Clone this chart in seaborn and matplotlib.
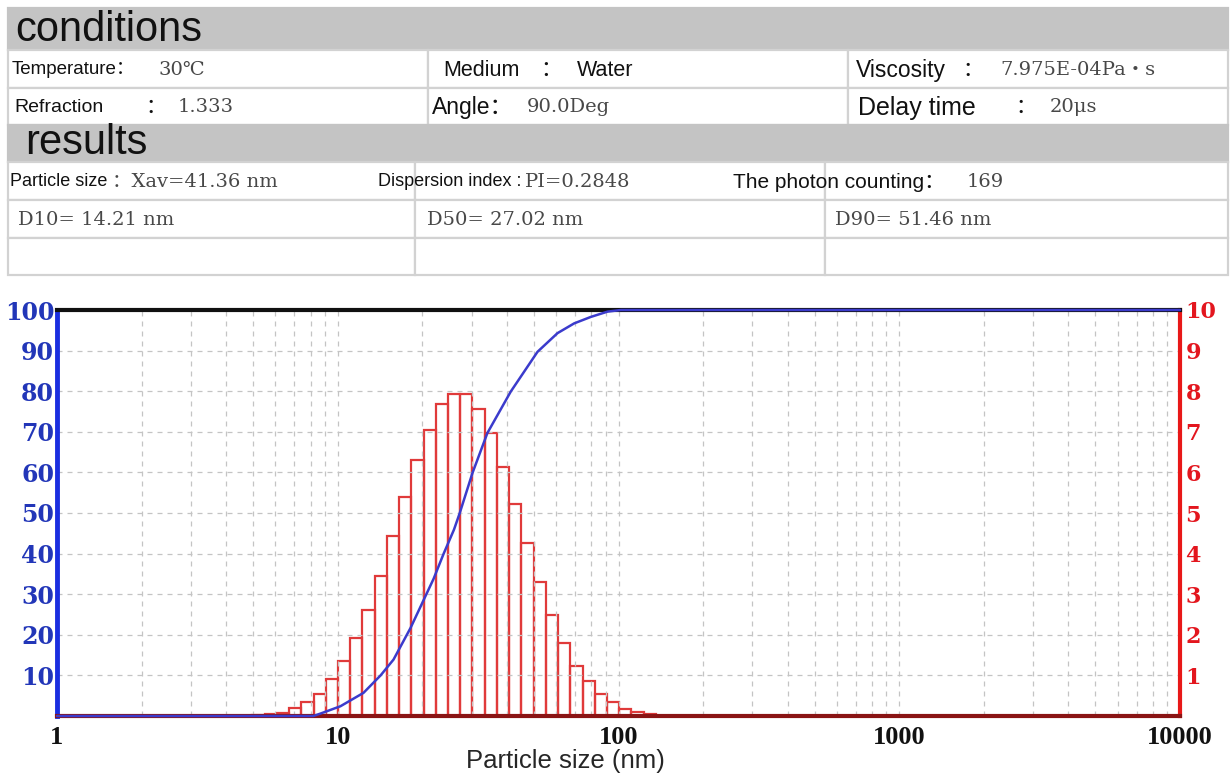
import matplotlib
matplotlib.use('Agg')
import matplotlib.pyplot as plt
import matplotlib.ticker as ticker
from matplotlib.patches import Rectangle
import seaborn as sns
import numpy as np

W, H = 1230, 776

# size distribution
bin_edges = [4.96, 5.49, 6.06, 6.70, 7.41, 8.20, 9.06, 10.02, 11.07, 12.24, 13.53,
             14.96, 16.54, 18.28, 20.22, 22.35, 24.71, 27.31, 30.19, 33.38, 36.90,
             40.78, 45.09, 49.84, 55.08, 60.94, 67.36, 74.46, 82.31, 91.00, 100.6,
             111.2, 122.9, 135.9]
freq_pct = [0.02, 0.04, 0.08, 0.19, 0.35, 0.55, 0.90, 1.35, 1.91, 2.60, 3.46,
            4.44, 5.40, 6.31, 7.05, 7.68, 7.94, 7.94, 7.55, 6.96, 6.14,
            5.22, 4.27, 3.30, 2.49, 1.80, 1.24, 0.85, 0.53, 0.34, 0.18,
            0.09, 0.04]

# cumulative curve (blue)
cum_size = [1, 8.19, 8.68, 10.22, 12.35, 14.21, 15.80, 18.17, 21.95, 23.84, 25.94,
            27.2, 30.17, 34.12, 41.32, 51.46, 60.64, 69.5, 79.72, 91.43, 102.0, 10000]
cum_pct = [0, 0, 0.6, 2.4, 5.7, 10, 13.9, 21.7, 33.8, 40.0, 45.9,
           50, 59.8, 69.7, 79.9, 89.7, 94.3, 96.7, 98.3, 99.6, 100, 100]

x_ticks = [1, 10, 100, 1000, 10000]
left_ticks = list(range(10, 101, 10))
right_ticks = list(range(1, 11))

# header table: (text, x in px, size, font kind)
cond_rows = [
    [[("Temperature：", 12, 13.5, 'lab'), ("30℃", 158, 14, 'val')],
     [("Medium", 443, 15.5, 'lab'), ("：", 540, 15.5, 'lab'), ("Water", 577, 15.5, 'lab')],
     [("Viscosity", 856, 16.5, 'lab'), ("：", 962, 15, 'lab'), ("7.975E-04Pa・s", 1000, 14, 'val')]],
    [[("Refraction", 14, 14, 'lab'), ("：", 145, 15, 'lab'), ("1.333", 178, 14, 'val')],
     [("Angle：", 432, 16.5, 'lab'), ("90.0Deg", 527, 14, 'val')],
     [("Delay time", 858, 18, 'lab'), ("：", 1015, 15, 'lab'), ("20μs", 1050, 14, 'val')]],
]
res_rows = [
    [[("Particle size", 10, 13, 'lab'), ("：Xav=41.36 nm", 112, 14, 'val')],
     [("Dispersion index :", 378, 13, 'lab'), ("PI=0.2848", 525, 14, 'val')],
     [("The photon counting：", 733, 15, 'lab'), ("169", 967, 14, 'val')]],
    [[("D10= 14.21 nm", 18, 14, 'val')],
     [("D50= 27.02 nm", 427, 14, 'val')],
     [("D90= 51.46 nm", 835, 14, 'val')]],
]

sns.set_style('white')
plt.rcParams['font.family'] = ['Liberation Sans', 'DejaVu Sans', 'Noto Sans CJK SC']

fig = plt.figure(figsize=(W / 100, H / 100), dpi=100)


def fx(px):
    return px / W


def fy(py):
    return 1 - py / H


def box(x0, y0, x1, y1, face, edge='#d2d2d2'):
    fig.add_artist(Rectangle((fx(x0), fy(y1)), fx(x1) - fx(x0), fy(y0) - fy(y1),
                             transform=fig.transFigure, facecolor=face,
                             edgecolor=edge, linewidth=1.6))


GRAY = '#c4c4c4'
FONTS = {
    'val': (['DejaVu Serif', 'Noto Sans CJK SC'], '#484848'),
    'lab': (['Liberation Sans', 'Noto Sans CJK SC', 'DejaVu Sans'], '#111111'),
}


def fill_rows(rows, row_y, cols):
    for (y0, y1), row in zip(row_y, rows):
        for (c0, c1), cell in zip(cols, row):
            box(c0, y0, c1, y1, 'white')
            yc = (y0 + y1) / 2 + 1
            for txt, x, size, kind in cell:
                fam, col = FONTS[kind]
                fig.text(fx(x), fy(yc), txt, fontsize=size, va='center',
                         color=col, family=fam)


box(8, 8, 1228, 50, GRAY, GRAY)
fig.text(fx(15), fy(30), 'conditions', fontsize=30, va='center', color='#111')
fill_rows(cond_rows, [(50, 88), (88, 125)], [(8, 428), (428, 848), (848, 1228)])

box(8, 125, 1228, 162, GRAY, GRAY)
fig.text(fx(25), fy(143), 'results', fontsize=30, va='center', color='#111')
res_cols = [(8, 415), (415, 825), (825, 1228)]
fill_rows(res_rows, [(162, 200), (200, 238)], res_cols)
for c0, c1 in res_cols:
    box(c0, 238, c1, 275, 'white')

# chart
ax = fig.add_axes([fx(57), fy(716), fx(1180) - fx(57), fy(310) - fy(716)])
ax.set_xscale('log')
ax2 = ax.twinx()
ax.set_zorder(2)
ax.patch.set_visible(False)

sns.lineplot(x=cum_size, y=cum_pct, ax=ax, color='#3b3bcc', linewidth=1.8,
             zorder=6, clip_on=False)

centers = list(np.sqrt(np.array(bin_edges[:-1]) * np.array(bin_edges[1:])))
sns.histplot(x=centers, weights=freq_pct, bins=list(np.log10(bin_edges)), log_scale=True,
             element='bars', fill=False, color='#e03a3a', linewidth=1.6, ax=ax2)

ax.set_xlim(1, 10000)
ax.set_ylim(0, 100)
ax2.set_ylim(0, 10)

ax.set_yticks(left_ticks)
ax2.set_yticks(right_ticks)
ax.set_xticks(x_ticks)
ax.xaxis.set_major_formatter(ticker.FixedFormatter([str(v) for v in x_ticks]))
ax.xaxis.set_minor_locator(ticker.LogLocator(base=10, subs=range(2, 10)))
ax.xaxis.set_minor_formatter(ticker.NullFormatter())

ax2.grid(False)
for axis_name, which in [('x', 'both'), ('y', 'major')]:
    ax.grid(True, which=which, axis=axis_name, color='#c4c4c4',
            linestyle=(0, (4, 4)), linewidth=0.9, zorder=0)

ax.tick_params(axis='both', which='both', length=0)
ax2.tick_params(axis='both', which='both', length=0)
for lbl in ax.get_yticklabels():
    lbl.set_fontfamily('DejaVu Serif')
    lbl.set_fontweight('bold')
    lbl.set_fontsize(17)
    lbl.set_color('#2236b8')
for lbl in ax2.get_yticklabels():
    lbl.set_fontfamily('DejaVu Serif')
    lbl.set_fontweight('bold')
    lbl.set_fontsize(16)
    lbl.set_color('#e3161e')
for lbl in ax.get_xticklabels():
    lbl.set_fontfamily('Liberation Serif')
    lbl.set_fontweight('bold')
    lbl.set_fontsize(19)
    lbl.set_color('#111')
ax.tick_params(axis='y', pad=2)
ax2.tick_params(axis='y', pad=4)
ax.tick_params(axis='x', pad=7)

ax.set_xlabel('Particle size (nm)', fontsize=18.5, family=FONTS['lab'][0])
ax.xaxis.label.set_va('center')
ax.xaxis.set_label_coords((565 - 57) / 1123, -0.11)
ax.set_ylabel('')
ax2.set_ylabel('')
ax2.set_xlabel('')

for s in ax2.spines.values():
    s.set_visible(False)
ax.spines['left'].set_color('#1a2ee0')
ax.spines['left'].set_linewidth(3.5)
ax.spines['right'].set_color('#e81818')
ax.spines['right'].set_linewidth(3)
ax.spines['top'].set_color('#111')
ax.spines['top'].set_linewidth(3)
ax.spines['bottom'].set_color('#8a1414')
ax.spines['bottom'].set_linewidth(3)
for s in ax.spines.values():
    s.set_zorder(4)

fig.savefig('out.png', dpi=100)
